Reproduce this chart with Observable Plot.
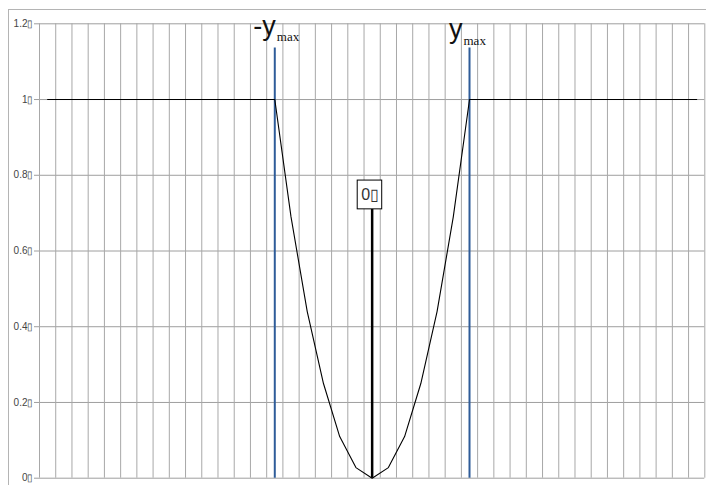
<!DOCTYPE html>
<html><head><meta charset="utf-8">
<script src="https://cdn.jsdelivr.net/npm/d3@7"></script>
<script src="https://cdn.jsdelivr.net/npm/@observablehq/plot@0.6"></script>
<style>
html,body{margin:0;padding:0;background:#fff;}
#wrap{position:relative;width:706px;height:485px;overflow:hidden;}
#frame{position:absolute;left:8px;top:9px;width:760px;height:540px;border:1px solid #b4b4b4;box-sizing:border-box;}
#chart{position:absolute;left:0;top:0;}
</style></head><body>
<div id="wrap"><div id="frame"></div><div id="chart"></div></div>
<script>
// 41 unlabeled categories (index 0..40)
const categories = [0,1,2,3,4,5,6,7,8,9,10,11,12,13,14,15,16,17,18,19,20,21,22,23,24,25,26,27,28,29,30,31,32,33,34,35,36,37,38,39,40];
const values = [1,1,1,1,1,1,1,1,1,1,1,1,1,1,1,
                0.69,0.44,0.25,0.11,0.028,0,0.028,0.11,0.25,0.44,0.69,
                1,1,1,1,1,1,1,1,1,1,1,1,1,1,1];
const yTicks = [0,0.2,0.4,0.6,0.8,1,1.2];
const yTickLabels = ["0","0.2","0.4","0.6","0.8","1","1.2"];
const dropCategories = [14,26];      // -y_max and y_max
const dropTop = 1.136;
const centerCategory = 20;
const centerLineTop = 0.71;
const centerBoxTop = 0.786;
const centerLabel = "0";
const leftLabel = "-y";
const rightLabel = "y";
const subLabel = "max";
const labelY = 1.2;
const tofu = "\u25AF";

const gridX = categories.map(c => c - 0.5).concat([categories[categories.length-1] + 0.5]);
const rows = categories.map((c,i) => ({c, v: values[i]}));

const chart = Plot.plot({
  width: 706, height: 485,
  marginLeft: 39, marginRight: 1.7, marginTop: 23.3, marginBottom: 7.3,
  style: {background: "transparent", fontFamily: "Liberation Sans, Arial, sans-serif"},
  x: {domain: [-0.5, 40.5], axis: null},
  y: {domain: [0, 1.2], axis: null},
  marks: [
    Plot.ruleY(yTicks, {stroke: "#9e9e9e", strokeWidth: 1}),
    Plot.ruleX(gridX, {stroke: "#a8a8a8", strokeWidth: 1}),
    Plot.axisY(yTicks, {tickSize: 5, tickPadding: 1, fontSize: 10, label: null,
      tickFormat: (d,i) => yTickLabels[i] + tofu, stroke: "#9e9e9e", fill: "#444"}),
    Plot.ruleX(dropCategories, {y1: 0, y2: dropTop, stroke: "#2f5c99", strokeWidth: 2}),
    Plot.line(rows, {x: "c", y: "v", stroke: "#000", strokeWidth: 1.1}),
    Plot.ruleX([centerCategory], {y1: 0, y2: centerLineTop, stroke: "#000", strokeWidth: 2.5}),
    Plot.rect([centerCategory], {x1: d => d - 0.89, x2: d => d + 0.62, y1: centerLineTop, y2: centerBoxTop,
      fill: "#fff", stroke: "#000", strokeWidth: 1}),
    Plot.text([centerCategory], {x: d => d, y: (centerLineTop + centerBoxTop) / 2, text: () => centerLabel + tofu,
      fontSize: 16, fill: "#333", dx: -2, textAnchor: "middle"}),
    Plot.text([dropCategories[0]], {x: d => d, y: labelY, text: () => leftLabel, textAnchor: "end",
      lineAnchor: "bottom", dx: 1, dy: 11, fontSize: 27, fill: "#111"}),
    Plot.text([dropCategories[0]], {x: d => d, y: labelY, text: () => subLabel, textAnchor: "start",
      lineAnchor: "bottom", dx: 2, dy: 17, fontSize: 13, fontFamily: "Liberation Serif, Times New Roman, serif", fill: "#111"}),
    Plot.text([dropCategories[1]], {x: d => d, y: labelY, text: () => rightLabel, textAnchor: "end",
      lineAnchor: "bottom", dx: -7, dy: 14, fontSize: 27, fill: "#111"}),
    Plot.text([dropCategories[1]], {x: d => d, y: labelY, text: () => subLabel, textAnchor: "start",
      lineAnchor: "bottom", dx: -6, dy: 21, fontSize: 13, fontFamily: "Liberation Serif, Times New Roman, serif", fill: "#111"})
  ]
});
document.getElementById("chart").appendChild(chart);
</script>
</body></html>
